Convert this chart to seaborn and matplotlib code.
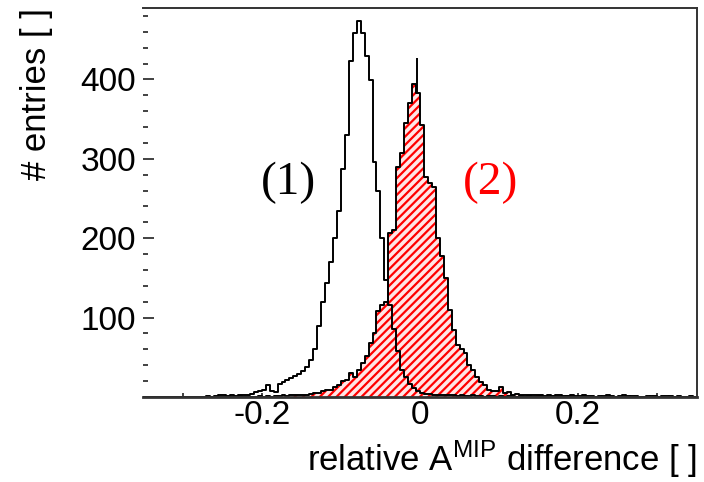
import numpy as np
import pandas as pd
import matplotlib
matplotlib.use("Agg")
import matplotlib.pyplot as plt
import seaborn as sns
from matplotlib.ticker import MultipleLocator, FixedLocator

# ---------------- data ----------------
bin_width = 0.005
x_min, x_max = -0.35, 0.35
y_max = 490

# histogram (1): black outline, bins starting at -0.35 in steps of 0.005
entries_1 = [
    0, 0, 0, 0, 0, 0, 0, 0, 0, 0,
    0, 0, 0, 0, 0, 0, 1, 0, 1, 2,
    3, 1, 2, 1, 2, 3, 2, 4, 6, 8,
    9, 15, 8, 6, 17, 19, 22, 24, 26, 29,
    33, 38, 47, 60, 90, 120, 144, 170, 200, 234,
    287, 330, 423, 458, 473, 459, 430, 399, 296, 260,
    200, 148, 116, 86, 58, 34, 25, 16, 11, 7,
    5, 4, 4, 3, 3, 2, 3, 2, 2, 1,
    2, 1, 1, 2, 1, 1, 0, 1, 1, 0,
    1, 0, 1, 0, 0, 1, 0, 1, 0, 0,
    1, 0, 0, 1, 0, 0, 0, 1, 0, 0,
    0, 1, 0, 0, 0, 0, 1, 0, 0, 0,
    0, 0, 1, 0, 0, 0, 0, 0, 1, 0,
    0, 0, 0, 1, 0, 0, 0, 0, 0, 0,
]

# histogram (2): red hatched, same bins
entries_2 = [
    0, 0, 0, 0, 0, 0, 0, 0, 0, 0,
    0, 0, 0, 0, 0, 0, 0, 0, 0, 0,
    0, 0, 0, 0, 1, 0, 0, 0, 0, 1,
    0, 1, 0, 1, 1, 2, 1, 2, 2, 3,
    2, 3, 4, 5, 5, 8, 9, 9, 13, 15,
    20, 22, 30, 25, 34, 43, 52, 68, 81, 108,
    116, 120, 207, 210, 290, 307, 345, 370, 394, 383,
    343, 277, 270, 264, 200, 178, 150, 110, 85, 66,
    60, 55, 40, 34, 25, 19, 15, 9, 7, 7,
    13, 5, 6, 3, 4, 3, 2, 3, 2, 3,
    2, 1, 2, 1, 2, 3, 1, 1, 2, 1,
    1, 3, 1, 1, 0, 1, 0, 2, 1, 0,
    1, 2, 0, 1, 1, 0, 0, 1, 0, 1,
    0, 1, 1, 0, 0, 1, 0, 0, 1, 0,
]

# thin spike on top of histogram (2)
spike_x = [-0.004]
spike_low = [383]
spike_high = [427]

y_ticks = [100, 200, 300, 400]
y_tick_labels = ["100", "200", "300", "400"]
x_ticks = [-0.3, -0.2, -0.1, 0.0, 0.1, 0.2, 0.3]
x_tick_labels = ["", "-0.2", "", "0", "", "0.2", ""]

label_1 = "(1)"
label_2 = "(2)"
label_1_pos = (-0.166, 270)
label_2_pos = (0.089, 270)

# ---------------- style ----------------
sns.set_style("white")
plt.rcParams["font.family"] = ["Liberation Sans", "DejaVu Sans"]
plt.rcParams["mathtext.fontset"] = "custom"
plt.rcParams["mathtext.rm"] = "Liberation Sans"
plt.rcParams["mathtext.it"] = "Liberation Sans"
plt.rcParams["hatch.linewidth"] = 1.6
for key in ["text.color", "axes.labelcolor", "xtick.color", "ytick.color"]:
    plt.rcParams[key] = "black"

n_bins = len(entries_1)
centers = x_min + bin_width * (np.arange(n_bins) + 0.5)
df = pd.DataFrame({"x": centers, "n1": entries_1, "n2": entries_2})

fig = plt.figure(figsize=(7.04, 4.82), dpi=100)
ax = fig.add_axes([143 / 704, 1 - 397 / 482, 554 / 704, 389 / 482])

hist_kw = dict(bins=n_bins, binrange=(x_min, x_max), element="step", ax=ax)

# hatched red fill of (2)
sns.histplot(data=df, x="x", weights="n2", fill=True, facecolor="#ffe6e6",
             edgecolor="red", hatch="////", linewidth=0, **hist_kw)
# outline of (2)
sns.histplot(data=df, x="x", weights="n2", fill=False, color="black",
             linewidth=1.4, **hist_kw)
ax.vlines(spike_x, spike_low, spike_high, color="black", linewidth=1.4)
# outline of (1)
sns.histplot(data=df, x="x", weights="n1", fill=False, color="black",
             linewidth=1.4, **hist_kw)

ax.set_xlim(x_min, x_max)
ax.set_ylim(0, y_max)

ax.text(*label_1_pos, label_1, color="black", fontsize=34,
        family=["Liberation Serif", "DejaVu Serif"], ha="center", va="center")
ax.text(*label_2_pos, label_2, color="red", fontsize=34,
        family=["Liberation Serif", "DejaVu Serif"], ha="center", va="center")

# axes frame
ax.spines["left"].set_visible(False)
for s in ["top", "right"]:
    ax.spines[s].set_linewidth(1.4)
    ax.spines[s].set_color("#333333")
ax.spines["bottom"].set_linewidth(2.0)
ax.spines["bottom"].set_color("#333333")

ax.yaxis.set_major_locator(FixedLocator(y_ticks))
ax.set_yticklabels(y_tick_labels)
ax.yaxis.set_minor_locator(MultipleLocator(20))
ax.xaxis.set_major_locator(FixedLocator(x_ticks))
ax.set_xticklabels(x_tick_labels)

ax.tick_params(axis="y", which="major", direction="in", length=8, width=1.3,
               left=True, right=False, labelsize=24, pad=5, color="#333333",
               labelcolor="black")
ax.tick_params(axis="y", which="minor", direction="in", length=3.5, width=1.3,
               left=True, right=False, color="#333333")
ax.tick_params(axis="x", which="major", direction="in", length=3, width=1.3,
               bottom=True, top=False, labelsize=24, pad=2, color="#333333",
               labelcolor="black")

ax.set_ylabel("# entries [ ]", fontsize=25, loc="top", color="black")
ax.yaxis.set_label_coords(-0.1625, 1.0)
ax.set_xlabel(r"relative A$^{\mathrm{MIP}}$ difference [ ]", fontsize=25,
              loc="right", color="black")
ax.xaxis.set_label_coords(1.0, -0.106)

fig.savefig("out.png", dpi=100)
